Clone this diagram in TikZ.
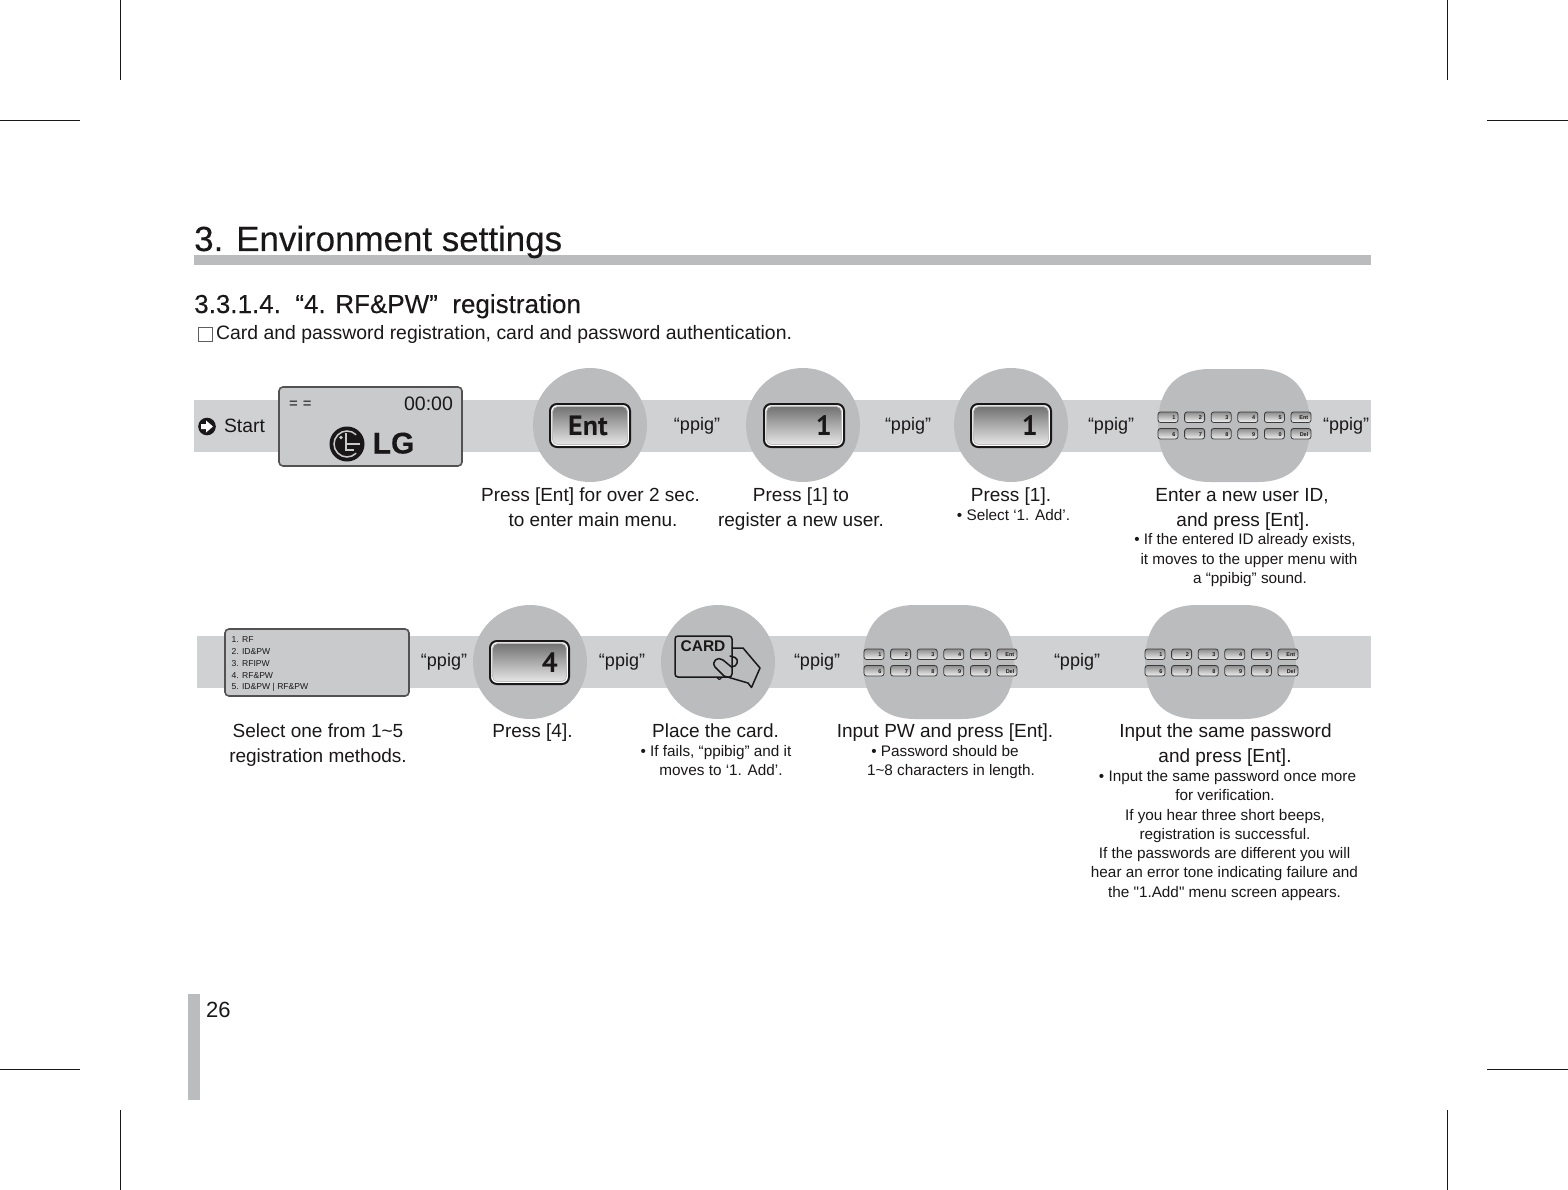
\documentclass[tikz,border=0pt]{standalone}
\usepackage{fontspec}
\setmainfont{Liberation Sans}
\newfontfamily\medfont[FakeBold=0.2]{Liberation Sans}
\newfontfamily\plainq{Liberation Sans}
\newfontfamily\keyfont{PT Sans}
\usetikzlibrary{calc}
\definecolor{band}{HTML}{D0D1D3}
\definecolor{disc}{HTML}{BBBCBE}
\definecolor{lcd}{HTML}{C9CACC}
\definecolor{ink}{HTML}{1A1718}
\tikzset{
  x=1pt,y=-1pt,
  crop/.style={draw=ink,line width=0.9pt},
  lcdbox/.style={fill=lcd,draw=ink!75,line width=1.6pt,rounded corners=4pt},
  bigkey/.style={draw=ink,line width=2pt,rounded corners=7pt,fill=white},
  bigface/.style={rounded corners=5pt,draw=white!75!black,line width=0.8pt,top color=black!55,bottom color=black!10},
  smallkey/.style={draw=ink!85,line width=0.8pt,rounded corners=2.5pt,top color=black!45,bottom color=black!5},
  lbl/.style={anchor=base,inner sep=0pt,text=ink},
  handline/.style={draw=ink,line width=1.5pt,line join=round,line cap=round},
}
\newcommand{\txt}[5]{\node[lbl,font=\fontsize{#4}{#4}\selectfont] (#1) at (#2,#3) {#5};}
\newcommand{\bigk}[6]{% name x y w labelxright label
  \draw[bigkey] (#2,#3) rectangle ++(#4,43);
  \draw[bigface] (#2+2.5,#3+2.5) rectangle ++(#4-5,38);
  \node[lbl,font=\keyfont\bfseries\fontsize{28}{28}\selectfont,anchor=base east] (#1) at (#5,#3+31.5) {#6};}
\newcommand{\smallk}[4]{% x y label name
  \draw[smallkey] (#1,#2) rectangle ++(20,10.5);
  \node[lbl,font=\bfseries\fontsize{5.5}{5.5}\selectfont,anchor=base east] (sk#4) at (#1+17.5,#2+7.5) {#3};}
\newcommand{\keypad}[3]{% x, y of top row, id
  \smallk{#1}{#2}{1}{#3a}\smallk{#1+26.6}{#2}{2}{#3b}\smallk{#1+53.2}{#2}{3}{#3c}\smallk{#1+79.8}{#2}{4}{#3d}\smallk{#1+106.4}{#2}{5}{#3e}\smallk{#1+133}{#2}{Ent}{#3f}
  \smallk{#1}{#2+16.5}{6}{#3g}\smallk{#1+26.6}{#2+16.5}{7}{#3h}\smallk{#1+53.2}{#2+16.5}{8}{#3i}\smallk{#1+79.8}{#2+16.5}{9}{#3j}\smallk{#1+106.4}{#2+16.5}{0}{#3k}\smallk{#1+133}{#2+16.5}{Del}{#3l}}
\begin{document}
\begin{tikzpicture}
\useasboundingbox (0,0) rectangle (1568,1190);
\fill[white] (0,0) rectangle (1568,1190);
% crop marks
\draw[crop] (120.5,0)--(120.5,80) (1447.5,0)--(1447.5,80) (120.5,1110)--(120.5,1190) (1447.5,1110)--(1447.5,1190);
\draw[crop] (0,120.5)--(80,120.5) (1487,120.5)--(1568,120.5) (0,1069.5)--(80,1069.5) (1487,1069.5)--(1568,1069.5);
% header
\fill[disc] (194,255) rectangle (1371,265);
\node[lbl,font=\medfont\fontsize{34.9}{34.9}\selectfont,anchor=base west] (title) at (194,251) {3. Environment settings};
\node[lbl,font=\medfont\fontsize{26}{26}\selectfont,anchor=base west] (sub) at (194,313) {3.3.1.4.\ \ “4. RF\&PW”\ \ registration};
\draw[ink!70,line width=0.5pt] (198,327) rectangle (212,341);
\node[lbl,font=\fontsize{19.4}{19.4}\selectfont,anchor=base west] (desc) at (216,339) {Card and password registration, card and password authentication.};
% bands
\fill[band] (194,400) rectangle (1371,452);
\fill[band] (197,636) rectangle (1371,688);
% discs
\foreach \cx/\cy in {590/425,803/425,1011/425,530/662,718/662}
  \fill[disc] (\cx,\cy) circle (57);
\fill[disc] (1158,425.5) .. controls (1158,385) and (1180,369) .. (1210,369) -- (1258,369) .. controls (1288,369) and (1310,385) .. (1310,425.5) .. controls (1310,466) and (1288,482) .. (1258,482) -- (1210,482) .. controls (1180,482) and (1158,466) .. (1158,425.5) -- cycle;
\fill[disc] (863,662) .. controls (863,621) and (885,605) .. (915,605) -- (962,605) .. controls (992,605) and (1014,621) .. (1014,662) .. controls (1014,703) and (992,719) .. (962,719) -- (915,719) .. controls (885,719) and (863,703) .. (863,662) -- cycle;
\fill[disc] (1145,662) .. controls (1145,621) and (1167,605) .. (1197,605) -- (1244,605) .. controls (1274,605) and (1296,621) .. (1296,662) .. controls (1296,703) and (1274,719) .. (1244,719) -- (1197,719) .. controls (1167,719) and (1145,703) .. (1145,662) -- cycle;
% start
\fill[ink] (207,426.5) circle (8.8);
\fill[white] (201,424)--(206,424)--(206,420.5)--(213,426.5)--(206,432.5)--(206,429)--(201,429)--cycle;
\node[lbl,font=\fontsize{19.3}{19.3}\selectfont] (start) at (244.5,432.5) {Start};
% LCD 1
\draw[lcdbox] (279,387) rectangle (462,466);
\node[lbl,font=\fontsize{15}{15}\selectfont] (eq) at (300.5,408) {=\,\,=};
\node[lbl,font=\fontsize{19.5}{19.5}\selectfont] (clock) at (428.5,410) {00:00};
\fill[ink] (347,444) circle (17.5);
\draw[lcd,line width=1.5pt] (347,444) ++(9.2,-9.2) arc (-45:-315:13);
\fill[lcd] (341,437.5) circle (1.9);
\draw[lcd,line width=1.7pt] (346,433)--(346,450)--(354,450) (347,444)--(360,444);
\node[lbl,font=\medfont\bfseries\fontsize{30}{30}\selectfont] (lg) at (393.5,453.5) {LG};
% LCD 2
\draw[lcdbox] (225,629) rectangle (409,696);
\node[lbl,font=\fontsize{8.6}{8.6}\selectfont,anchor=base west] (m1) at (231.5,642.5) {1. RF};
\node[lbl,font=\fontsize{8.6}{8.6}\selectfont,anchor=base west] (m2) at (231.5,654.5) {2. ID\&PW};
\node[lbl,font=\fontsize{8.6}{8.6}\selectfont,anchor=base west] (m3) at (231.5,666.5) {3. RFIPW};
\node[lbl,font=\fontsize{8.6}{8.6}\selectfont,anchor=base west] (m4) at (231.5,678) {4. RF\&PW};
\node[lbl,font=\fontsize{8.6}{8.6}\selectfont,anchor=base west] (m5) at (231.5,689.5) {5. ID\&PW | RF\&PW};
% keys
\bigk{kent}{550}{404}{80}{608}{Ent}
\bigk{kone}{764}{404}{80}{832}{1}
\bigk{ktwo}{971}{404}{80}{1038}{1}
\bigk{kfour}{490}{641}{79}{558}{4}
\keypad{1158}{412}{a}
\keypad{864}{649}{b}
\keypad{1145}{649}{c}
% card
\draw[ink,line width=1.5pt,rounded corners=3pt] (675,636) rectangle (732,677);
\node[lbl,font=\bfseries\fontsize{15.5}{15.5}\selectfont] (card) at (703,651) {CARD};
\draw[handline] (732,648) -- (743,648) -- (760,668) -- (751.5,687.5) -- (748,683) -- (724,676) -- (715,667) .. controls (711,661) and (718,656) .. (723,660) -- (731.5,667) .. controls (738,667) and (739,659) .. (735,657.5) -- (730,656);
\draw[ink,line width=1.2pt] (717,677.5) .. controls (718,680) and (720,680) .. (721.5,677.5);
% ppig labels
\txt{p1}{697}{430.5}{18}{“ppig”}
\txt{p2}{908}{430.5}{18}{“ppig”}
\txt{p3}{1111}{430.5}{18}{“ppig”}
\txt{p4}{1346}{430.5}{18}{“ppig”}
\txt{p5}{444}{666}{18}{“ppig”}
\txt{p6}{622}{666}{18}{“ppig”}
\txt{p7}{817}{666}{18}{“ppig”}
\txt{p8}{1077}{666}{18}{“ppig”}
% captions row 1
\txt{a1}{590.5}{501.5}{19}{Press [Ent] for over 2 sec.}
\txt{a2}{593}{526.5}{19}{to enter main menu.}
\txt{b1}{801}{501.5}{19}{Press [1] to}
\txt{b2}{801}{526.5}{19}{register a new user.}
\txt{c1}{1011}{501.5}{19}{Press [1].}
\txt{c2}{1013.5}{520}{15.3}{• Select ‘1. Add’.}
\txt{d1}{1242}{501.5}{19}{Enter a new user ID,}
\txt{d2}{1243}{526.5}{19}{and press [Ent].}
\txt{d3}{1245}{544.5}{15.3}{• If the entered ID already exists,}
\txt{d4}{1249}{564}{15.3}{it moves to the upper menu with}
\txt{d5}{1250}{583}{15.3}{a “ppibig” sound.}
% captions row 2
\txt{e1}{318}{737.5}{19}{Select one from 1\textasciitilde 5}
\txt{e2}{318}{762.5}{19}{registration methods.}
\txt{f1}{532.5}{737.5}{19}{Press [4].}
\txt{g1}{715.5}{737.5}{19}{Place the card.}
\txt{g2}{716}{756}{15.3}{• If fails, “ppibig” and it}
\txt{g3}{721}{775.5}{15.3}{moves to ‘1. Add’.}
\txt{h1}{945}{737.5}{19}{Input PW and press [Ent].}
\txt{h2}{945}{756}{15.3}{• Password should be}
\txt{h3}{951}{775.5}{15.3}{1\textasciitilde 8 characters in length.}
\txt{i1}{1225.5}{737.5}{19}{Input the same password}
\txt{i2}{1225}{762.5}{19}{and press [Ent].}
\txt{i3}{1227.5}{781}{15.3}{• Input the same password once more}
\txt{i4}{1225}{800}{15.3}{for verification.}
\txt{i5}{1225}{820}{15.3}{If you hear three short beeps,}
\txt{i6}{1225}{839}{15.3}{registration is successful.}
\txt{i7}{1224.5}{858}{15.3}{If the passwords are different you will}
\txt{i8}{1224.5}{877.5}{15.3}{hear an error tone indicating failure and}
\txt{i9}{1224.5}{897}{15.3}{the {\plainq "}1.Add{\plainq "} menu screen appears.}
% footer
\fill[disc] (188,994) rectangle (200,1100);
\node[lbl,font=\fontsize{22}{22}\selectfont,anchor=base west] (page) at (206,1017) {26};
\end{tikzpicture}
\end{document}
